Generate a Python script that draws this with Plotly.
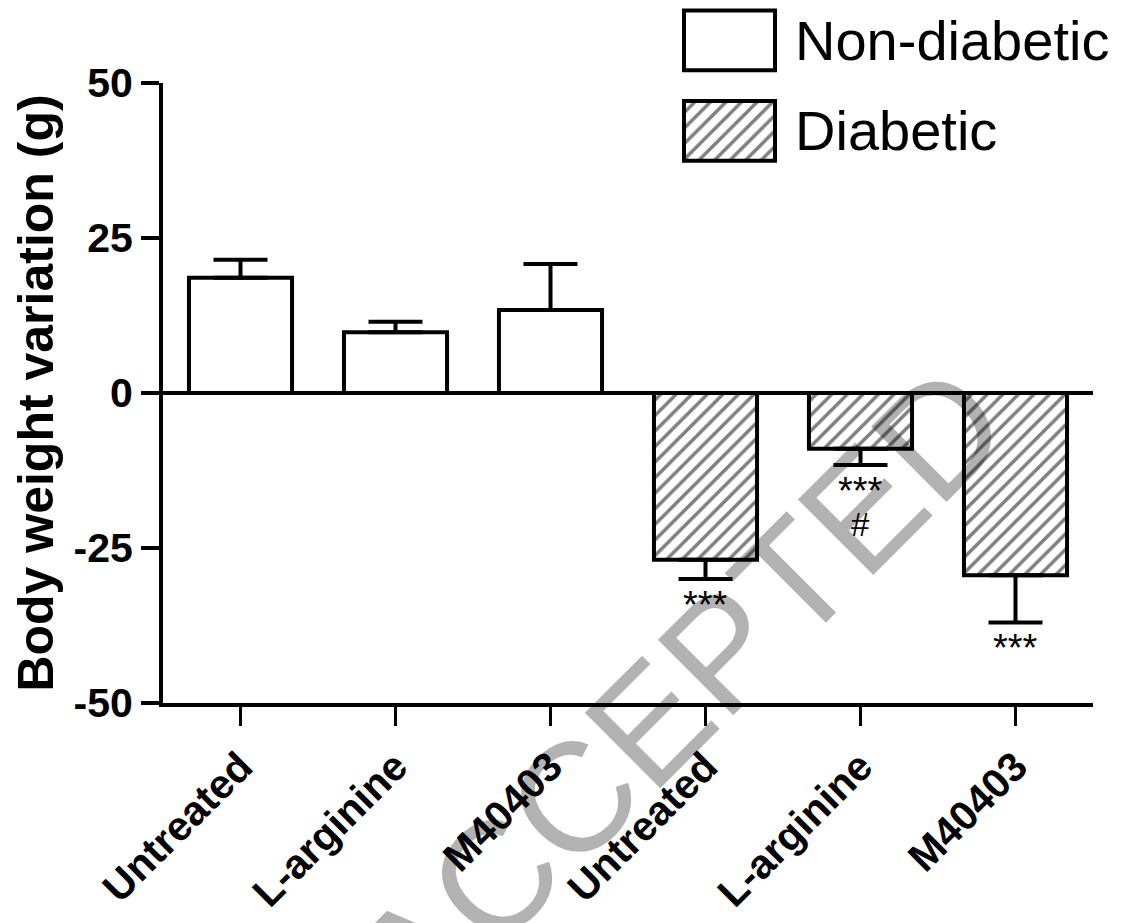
import plotly.graph_objects as go

# ---- data ----
categories = ["Untreated", "L-arginine", "M40403", "Untreated", "L-arginine", "M40403"]
positions = [0, 1, 2, 3, 4, 5]
group_names = ["Non-diabetic", "Diabetic"]

nondiabetic_mean = [18.6, 9.8, 13.4]
nondiabetic_sem = [2.9, 1.7, 7.4]
diabetic_mean = [-26.9, -9.0, -29.4]
diabetic_sem = [3.1, 2.6, 7.6]

diabetic_stars = ["***", "***", "***"]
diabetic_hash = ["", "#", ""]

y_ticks = [-50, -25, 0, 25, 50]
y_ticktext = ["-50", "-25", "0", "25", "50"]
y_title = "Body weight variation (g)"
watermark = "ACCEPTED"

FONT = "Liberation Sans, Arial, sans-serif"
BAR_W = 0.665

nd_x = positions[:3]
d_x = positions[3:]

hatch = dict(shape="/", fgcolor="black", bgcolor="white", size=11, solidity=0.32)

fig = go.Figure()

fig.add_trace(go.Bar(
    x=nd_x, y=nondiabetic_mean, width=BAR_W, name=group_names[0], showlegend=False,
    marker=dict(color="white", line=dict(color="black", width=4)),
    error_y=dict(type="data", symmetric=False, array=nondiabetic_sem,
                 arrayminus=[0] * len(nondiabetic_sem), color="black", thickness=4, width=27),
))
fig.add_trace(go.Bar(
    x=d_x, y=diabetic_mean, width=BAR_W, name=group_names[1], showlegend=False,
    marker=dict(color="white", line=dict(color="black", width=4), pattern=hatch),
    error_y=dict(type="data", symmetric=False, array=[0] * len(diabetic_sem),
                 arrayminus=diabetic_sem, color="black", thickness=4, width=27),
))

# ---- legend drawn on a small inset axes ----
fig.add_trace(go.Bar(
    x=[1], y=[1], base=0, orientation="h", width=0.66, xaxis="x2", yaxis="y2",
    name=group_names[0], showlegend=False,
    marker=dict(color="white", line=dict(color="black", width=4)),
))
fig.add_trace(go.Bar(
    x=[1], y=[0], base=0, orientation="h", width=0.66, xaxis="x2", yaxis="y2",
    name=group_names[1], showlegend=False,
    marker=dict(color="white", line=dict(color="black", width=4), pattern=hatch),
))

annotations = []
for yv, name in zip([1, 0], group_names):
    annotations.append(dict(
        x=1, y=yv, xref="x2", yref="y2", text=name, showarrow=False,
        xanchor="left", yanchor="middle", xshift=18,
        font=dict(family=FONT, size=56, color="black"),
    ))

for xv, m, s, st, hs in zip(d_x, diabetic_mean, diabetic_sem, diabetic_stars, diabetic_hash):
    if st:
        annotations.append(dict(
            x=xv, y=m - s, xref="x", yref="y", text=st, showarrow=False,
            xanchor="center", yanchor="top", yshift=-3,
            font=dict(family=FONT, size=38, color="black"),
        ))
    if hs:
        annotations.append(dict(
            x=xv, y=m - s, xref="x", yref="y", text=hs, showarrow=False,
            xanchor="center", yanchor="top", yshift=-39,
            font=dict(family=FONT, size=33, color="black"),
        ))

annotations.append(dict(
    x=0.556, y=0.0158, xref="paper", yref="paper", text=watermark, showarrow=False,
    xanchor="center", yanchor="middle", textangle=-45,
    font=dict(family=FONT, size=155, color="rgba(0,0,0,0.3)"),
))

fig.update_layout(
    width=1122, height=923, autosize=False,
    margin=dict(l=155, r=37, t=0, b=228, autoexpand=False),
    plot_bgcolor="white", paper_bgcolor="white",
    barmode="overlay", showlegend=False,
    font=dict(family=FONT, color="black"),
    xaxis=dict(
        domain=[0, 1], range=[-0.5, 5.5], tickmode="array", tickvals=positions,
        ticktext=categories, tickangle=-45, ticks="outside", ticklen=19, tickwidth=3,
        tickcolor="black", showline=True, linewidth=4, linecolor="black",
        showgrid=False, zeroline=False, automargin=False,
        tickfont=dict(family=FONT, size=41, color="black", weight="bold"),
    ),
    yaxis=dict(
        domain=[0, 0.89209], range=[-50, 50], tickmode="array", tickvals=y_ticks,
        ticktext=y_ticktext,
        ticks="outside", ticklen=18, tickwidth=4, tickcolor="black",
        showline=True, linewidth=4, linecolor="black", showgrid=False,
        zeroline=True, zerolinewidth=4, zerolinecolor="black", automargin=False,
        tickfont=dict(family=FONT, size=41, color="black", weight="bold"),
        title=dict(text=y_title, standoff=20,
                   font=dict(family=FONT, size=50, color="black", weight="bold")),
    ),
    xaxis2=dict(domain=[0.5559, 0.6624], range=[-0.044, 1.044], anchor="y2",
                visible=False, fixedrange=True, automargin=False),
    yaxis2=dict(domain=[0.7698, 1.0], range=[-0.41, 1.358], anchor="x2",
                visible=False, fixedrange=True, automargin=False),
    annotations=annotations,
)

fig.write_html("out.html")
